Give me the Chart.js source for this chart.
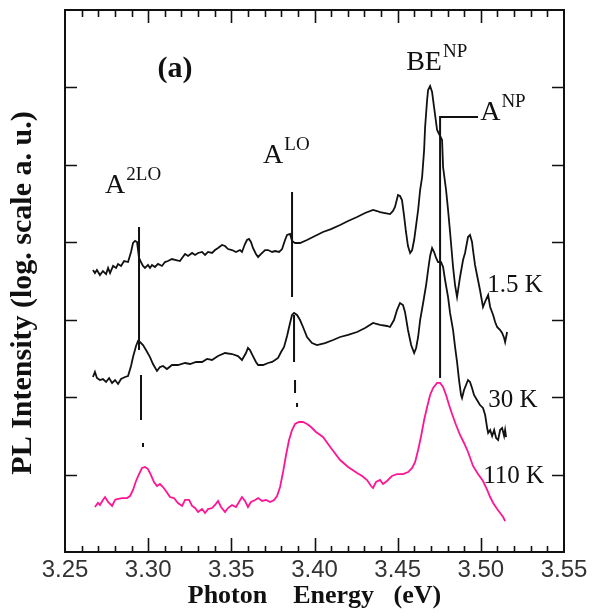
<!DOCTYPE html>
<html>
<head>
<meta charset="utf-8">
<script src="https://cdn.jsdelivr.net/npm/chart.js@4"></script>
<style>
  html, body { margin: 0; padding: 0; background: #fff; }
  #wrap { width: 594px; height: 616px; }
</style>
</head>
<body>
<div id="wrap"><canvas id="plChart" width="594" height="616"></canvas></div>
<script>
// PL spectra, photon energy (eV) vs. log intensity (decades, arbitrary offset)
const spec15K = [
  [3.2668,3.642],[3.2680,3.603],[3.2692,3.642],[3.2710,3.577],[3.2728,3.629],[3.2747,3.590],
  [3.2759,3.668],[3.2771,3.603],[3.2789,3.694],[3.2807,3.668],[3.2819,3.720],[3.2837,3.694],
  [3.2855,3.758],[3.2879,3.745],[3.2897,3.875],[3.2909,3.991],[3.2921,4.017],[3.2933,4.004],
  [3.2945,3.797],[3.2957,3.745],[3.2969,3.694],[3.2981,3.668],[3.2999,3.707],[3.3011,3.668],
  [3.3023,3.707],[3.3041,3.681],[3.3059,3.720],[3.3083,3.694],[3.3101,3.745],[3.3119,3.758],
  [3.3143,3.784],[3.3167,3.771],[3.3191,3.758],[3.3204,3.797],[3.3222,3.849],[3.3240,3.823],
  [3.3264,3.862],[3.3282,3.836],[3.3300,3.862],[3.3324,3.875],[3.3342,3.836],[3.3360,3.875],
  [3.3384,3.862],[3.3402,3.900],[3.3420,3.926],[3.3444,3.965],[3.3462,3.952],[3.3480,3.913],
  [3.3504,3.900],[3.3528,3.875],[3.3552,3.900],[3.3564,3.875],[3.3582,3.978],[3.3594,4.029],
  [3.3606,4.042],[3.3618,4.004],[3.3630,3.926],[3.3648,3.849],[3.3661,3.810],[3.3679,3.849],
  [3.3703,3.900],[3.3721,3.900],[3.3745,3.875],[3.3763,3.887],[3.3787,3.875],[3.3805,3.913],
  [3.3823,4.029],[3.3835,4.094],[3.3853,4.107],[3.3865,4.017],[3.3883,3.991],[3.3913,3.991],
  [3.3955,4.029],[3.4003,4.081],[3.4051,4.133],[3.4099,4.171],[3.4154,4.223],[3.4202,4.275],
  [3.4256,4.327],[3.4304,4.378],[3.4352,4.417],[3.4376,4.404],[3.4394,4.391],[3.4424,4.378],
  [3.4454,4.365],[3.4472,4.404],[3.4484,4.456],[3.4502,4.611],[3.4514,4.598],[3.4526,4.546],
  [3.4538,4.352],[3.4550,4.133],[3.4562,3.952],[3.4575,3.862],[3.4587,3.900],[3.4599,4.029],
  [3.4611,4.223],[3.4623,4.417],[3.4635,4.675],[3.4647,4.843],[3.4659,5.192],[3.4665,5.489],
  [3.4677,5.838],[3.4683,5.967],[3.4695,6.018],[3.4707,5.941],[3.4713,5.838],[3.4725,5.644],
  [3.4737,5.450],[3.4755,5.373],[3.4767,5.321],[3.4773,4.972],[3.4791,4.675],[3.4803,4.417],
  [3.4815,4.133],[3.4833,3.681],[3.4845,3.448],[3.4857,3.293],[3.4875,3.552],[3.4893,3.771],
  [3.4905,3.862],[3.4923,4.068],[3.4935,4.094],[3.4947,4.004],[3.4953,3.900],[3.4965,3.707],
  [3.4977,3.577],[3.4995,3.384],[3.5013,3.164],[3.5025,3.229],[3.5038,3.293],[3.5044,3.319],
  [3.5056,3.164],[3.5074,3.061],[3.5086,2.970],[3.5098,2.906],[3.5116,2.867],[3.5128,2.828],
  [3.5140,2.764],[3.5146,2.712],[3.5158,2.841]
];

const spec30K = [
  [3.2668,2.260],[3.2680,2.325],[3.2692,2.247],[3.2710,2.221],[3.2728,2.234],[3.2747,2.196],
  [3.2765,2.247],[3.2783,2.183],[3.2801,2.221],[3.2819,2.170],[3.2837,2.234],[3.2861,2.260],
  [3.2879,2.273],[3.2897,2.402],[3.2909,2.518],[3.2927,2.660],[3.2939,2.725],[3.2951,2.712],
  [3.2969,2.673],[3.2987,2.609],[3.3011,2.518],[3.3029,2.428],[3.3053,2.338],[3.3071,2.389],
  [3.3089,2.402],[3.3113,2.363],[3.3143,2.415],[3.3179,2.415],[3.3222,2.441],[3.3252,2.428],
  [3.3288,2.454],[3.3324,2.454],[3.3354,2.493],[3.3384,2.480],[3.3420,2.531],[3.3462,2.570],
  [3.3504,2.557],[3.3540,2.531],[3.3564,2.480],[3.3588,2.570],[3.3600,2.635],[3.3612,2.609],
  [3.3630,2.531],[3.3648,2.454],[3.3661,2.415],[3.3691,2.415],[3.3721,2.441],[3.3745,2.454],
  [3.3763,2.480],[3.3781,2.506],[3.3799,2.583],[3.3817,2.648],[3.3835,2.790],[3.3853,2.958],
  [3.3865,3.061],[3.3877,3.087],[3.3895,3.061],[3.3913,2.996],[3.3931,2.906],[3.3955,2.777],
  [3.3985,2.699],[3.4015,2.673],[3.4063,2.699],[3.4112,2.738],[3.4154,2.777],[3.4202,2.803],
  [3.4256,2.841],[3.4304,2.893],[3.4352,2.958],[3.4394,2.932],[3.4436,2.919],[3.4454,2.906],
  [3.4478,2.996],[3.4496,3.125],[3.4514,3.216],[3.4532,3.190],[3.4544,3.100],[3.4562,2.867],
  [3.4581,2.673],[3.4599,2.570],[3.4611,2.635],[3.4623,2.777],[3.4635,2.996],[3.4653,3.216],
  [3.4671,3.448],[3.4683,3.642],[3.4695,3.823],[3.4707,3.926],[3.4719,3.874],[3.4731,3.797],
  [3.4743,3.745],[3.4761,3.745],[3.4773,3.681],[3.4785,3.513],[3.4803,3.293],[3.4815,3.087],
  [3.4833,2.867],[3.4845,2.648],[3.4857,2.454],[3.4869,2.221],[3.4881,2.028],[3.4887,1.989],
  [3.4899,2.092],[3.4911,2.157],[3.4923,2.221],[3.4935,2.196],[3.4947,2.118],[3.4959,2.028],
  [3.4977,1.963],[3.4995,1.898],[3.5013,1.860],[3.5026,1.769],[3.5038,1.601],[3.5044,1.537],
  [3.5056,1.576],[3.5068,1.498],[3.5080,1.576],[3.5092,1.472],[3.5104,1.446],[3.5116,1.576],
  [3.5128,1.601],[3.5140,1.498],[3.5146,1.576],[3.5152,1.485]
];

const spec110K = [
  [3.2680,0.581],[3.2698,0.633],[3.2710,0.607],[3.2728,0.672],[3.2741,0.710],[3.2759,0.646],
  [3.2783,0.594],[3.2801,0.672],[3.2813,0.684],[3.2843,0.697],[3.2873,0.697],[3.2891,0.723],
  [3.2909,0.801],[3.2927,0.917],[3.2945,1.007],[3.2963,1.085],[3.2981,1.098],[3.2999,1.072],
  [3.3017,0.994],[3.3035,0.904],[3.3053,0.852],[3.3071,0.878],[3.3089,0.839],[3.3107,0.788],
  [3.3131,0.710],[3.3155,0.697],[3.3179,0.633],[3.3204,0.594],[3.3222,0.672],[3.3246,0.672],
  [3.3264,0.594],[3.3282,0.568],[3.3300,0.517],[3.3324,0.555],[3.3342,0.504],[3.3360,0.555],
  [3.3384,0.568],[3.3402,0.607],[3.3420,0.659],[3.3438,0.581],[3.3462,0.517],[3.3480,0.568],
  [3.3504,0.607],[3.3528,0.581],[3.3546,0.646],[3.3564,0.710],[3.3582,0.659],[3.3600,0.581],
  [3.3618,0.646],[3.3643,0.672],[3.3661,0.697],[3.3685,0.659],[3.3709,0.672],[3.3733,0.646],
  [3.3757,0.672],[3.3775,0.723],[3.3793,0.839],[3.3811,1.033],[3.3829,1.253],[3.3847,1.446],
  [3.3865,1.576],[3.3883,1.653],[3.3907,1.679],[3.3931,1.679],[3.3955,1.653],[3.3979,1.614],
  [3.4009,1.550],[3.4051,1.485],[3.4099,1.343],[3.4154,1.188],[3.4202,1.098],[3.4256,1.020],
  [3.4286,0.982],[3.4316,0.930],[3.4340,0.852],[3.4352,0.827],[3.4370,0.904],[3.4394,0.930],
  [3.4412,0.878],[3.4436,0.917],[3.4466,0.982],[3.4496,1.007],[3.4532,1.007],[3.4563,1.033],
  [3.4587,1.085],[3.4605,1.162],[3.4623,1.317],[3.4641,1.498],[3.4659,1.705],[3.4677,1.873],
  [3.4695,2.028],[3.4713,2.118],[3.4737,2.183],[3.4755,2.183],[3.4773,2.131],[3.4791,2.028],
  [3.4809,1.898],[3.4827,1.782],[3.4851,1.640],[3.4875,1.511],[3.4899,1.408],[3.4923,1.292],
  [3.4953,1.111],[3.4983,1.007],[3.5013,0.917],[3.5038,0.801],[3.5056,0.710],[3.5074,0.633],
  [3.5098,0.555],[3.5116,0.504],[3.5134,0.452],[3.5146,0.400]
];

// peak marker lines (energy, intensity)
const markA2LO = [[[3.2945,4.197],[3.2945,2.609]], [[3.2957,2.286],[3.2957,1.705]], [[3.2969,1.408],[3.2969,1.356]]];
const markALO  = [[[3.3865,4.649],[3.3865,3.293]], [[3.3877,3.061],[3.3877,2.454]], [[3.3883,2.221],[3.3883,2.054]], [[3.3895,1.924],[3.3895,1.873]]];
const markANP  = [[[3.4983,5.618],[3.4755,5.618],[3.4755,2.247]]];

// text labels: [main, superscript, energy, intensity]
const peakLabels = [
  ['A', '2LO', 3.2741, 4.637],
  ['A', 'LO', 3.3691, 5.024],
  ['BE', 'NP', 3.4551, 6.225],
  ['A', 'NP', 3.4996, 5.579]
];
const tempLabels = [
  ['1.5 K', 3.5038, 3.358],
  ['30 K', 3.5044, 1.873],
  ['110 K', 3.5014, 0.891]
];
const panelLabel = ['(a)', 3.3161, 6.16];

const xMin = 3.25, xMax = 3.55, xStep = 0.05, xMinor = 0.01;
const yMin = 0, yMax = 7;
const yTicks = [1, 2, 3, 4, 5, 6];

const SERIF = '"Liberation Serif", "DejaVu Serif", serif';
const SANS = '"Liberation Sans", Arial, sans-serif';

const toPts = arr => arr.map(p => ({ x: p[0], y: p[1] }));

const datasets = [
  { label: '1.5 K', data: toPts(spec15K), borderColor: '#111', borderWidth: 1.8 },
  { label: '30 K', data: toPts(spec30K), borderColor: '#111', borderWidth: 1.8 },
  { label: '110 K', data: toPts(spec110K), borderColor: '#ff1493', borderWidth: 1.8 }
];
[markA2LO, markALO, markANP].forEach(group => {
  group.forEach(seg => {
    datasets.push({ label: 'mark', data: toPts(seg), borderColor: '#111', borderWidth: 2 });
  });
});

const framePlugin = {
  id: 'frame',
  afterDraw(chart) {
    const { ctx, chartArea: a, scales } = chart;
    const xs = scales.x, ys = scales.y;
    ctx.save();
    ctx.strokeStyle = '#111';
    ctx.lineWidth = 2;
    ctx.strokeRect(a.left, a.top, a.right - a.left, a.bottom - a.top);

    // inward ticks, top and bottom
    ctx.lineWidth = 1.6;
    const n = Math.round((xMax - xMin) / xMinor);
    for (let i = 1; i < n; i++) {
      const px = Math.round(xs.getPixelForValue(xMin + i * xMinor)) + 0.5;
      const major = i % Math.round(xStep / xMinor) === 0;
      const lenB = major ? 14 : 6, lenT = major ? 13 : 7;
      ctx.beginPath();
      ctx.moveTo(px, a.bottom); ctx.lineTo(px, a.bottom - lenB);
      ctx.moveTo(px, a.top); ctx.lineTo(px, a.top + lenT);
      ctx.stroke();
    }
    // inward ticks, left and right
    yTicks.forEach(v => {
      const py = Math.round(ys.getPixelForValue(v)) + 0.5;
      ctx.beginPath();
      ctx.moveTo(a.left, py); ctx.lineTo(a.left + 12, py);
      ctx.moveTo(a.right, py); ctx.lineTo(a.right - 12, py);
      ctx.stroke();
    });

    ctx.fillStyle = '#111';
    ctx.textBaseline = 'alphabetic';
    ctx.textAlign = 'left';

    // peak labels with superscripts
    peakLabels.forEach(([main, sup, ex, iy]) => {
      const px = xs.getPixelForValue(ex), py = ys.getPixelForValue(iy);
      ctx.font = '28px ' + SERIF;
      ctx.fillText(main, px, py);
      const w = ctx.measureText(main).width;
      ctx.font = '19px ' + SERIF;
      ctx.fillText(sup, px + w + 1, py - 13);
    });

    ctx.font = '25px ' + SERIF;
    tempLabels.forEach(([txt, ex, iy]) => {
      ctx.fillText(txt, xs.getPixelForValue(ex), ys.getPixelForValue(iy));
    });

    ctx.font = 'bold 30px ' + SERIF;
    ctx.textAlign = 'center';
    ctx.fillText(panelLabel[0], xs.getPixelForValue(panelLabel[1]), ys.getPixelForValue(panelLabel[2]) + 2);

    // y axis title
    ctx.translate(23, 293);
    ctx.rotate(-Math.PI / 2);
    ctx.font = 'bold 30px ' + SERIF;
    ctx.textBaseline = 'middle';
    ctx.fillText('PL Intensity (log. scale a. u.)', 0, 0);
    ctx.restore();
  }
};

new Chart(document.getElementById('plChart'), {
  type: 'line',
  data: { datasets },
  options: {
    responsive: false,
    animation: false,
    events: [],
    layout: { padding: { top: 10, right: 30, left: 0, bottom: 0 } },
    elements: { point: { radius: 0 }, line: { tension: 0, fill: false } },
    plugins: { legend: { display: false }, tooltip: { enabled: false } },
    scales: {
      x: {
        type: 'linear',
        min: xMin, max: xMax,
        grid: { display: false, drawTicks: false },
        border: { display: false },
        ticks: {
          stepSize: xStep,
          padding: 4,
          color: '#333',
          font: { family: SANS, size: 24 },
          callback: v => Number(v).toFixed(2)
        },
        title: {
          display: true,
          text: 'Photon    Energy   (eV)',
          color: '#111',
          font: { family: SERIF, size: 26, weight: 'bold' },
          padding: { top: 0, bottom: 4 }
        },
        afterFit: s => { s.height = 64; }
      },
      y: {
        type: 'linear',
        min: yMin, max: yMax,
        grid: { display: false, drawTicks: false },
        border: { display: false },
        ticks: { display: false },
        afterFit: s => { s.width = 65; }
      }
    }
  },
  plugins: [framePlugin]
});
</script>
</body>
</html>
